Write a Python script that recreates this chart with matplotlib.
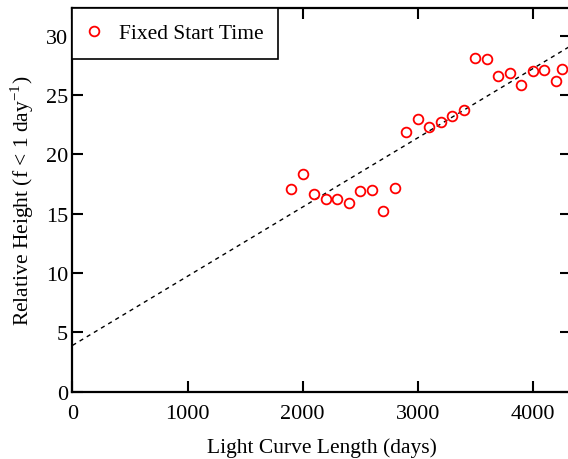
import numpy as np
import matplotlib
matplotlib.use("Agg")
import matplotlib.pyplot as plt

plt.rcParams['font.family'] = ['Liberation Serif', 'DejaVu Serif']
plt.rcParams['mathtext.fontset'] = 'custom'
plt.rcParams['mathtext.rm'] = 'Liberation Serif'

# light curve length (days) and relative peak height
length = [1900, 2000, 2100, 2200, 2300, 2400, 2500, 2600, 2700, 2800,
          2900, 3000, 3100, 3200, 3300, 3400, 3500, 3600, 3700, 3800,
          3900, 4000, 4100, 4200, 4250]
height = [17.05, 18.3, 16.65, 16.22, 16.22, 15.9, 16.88, 17.0, 15.2, 17.2,
          21.92, 23.0, 22.3, 22.7, 23.23, 23.74, 28.12, 28.0, 26.56, 26.84,
          25.85, 27.0, 27.13, 26.14, 27.2]

# linear trend
fit_intercept = 3.9
fit_slope = 0.00583

xmax = 4330
ymax = 32.3

fig = plt.figure(figsize=(5.68, 4.60), dpi=100)
ax = fig.add_axes([0.1276, 0.1463, 0.8775, 0.8335])

xs = np.array([0, xmax])
ax.plot(xs, fit_intercept + fit_slope * xs, color='black', lw=1.0,
        linestyle=(0, (3, 3)), zorder=2)
ax.plot(length, height, 'o', mfc='none', mec='red', ms=7, mew=1.3,
        linestyle='none', label='Fixed Start Time', zorder=3)

ax.set_xlim(0, xmax)
ax.set_ylim(0, ymax)
ax.set_xticks([0, 1000, 2000, 3000, 4000])
ax.set_yticks([0, 5, 10, 15, 20, 25, 30])

ax.tick_params(direction='in', length=8, width=1.5, labelsize=16,
               top=True, right=True)
ax.tick_params(axis='x', pad=9)
ax.tick_params(axis='y', pad=3)
for s in ax.spines.values():
    s.set_linewidth(1.6)

ax.set_xlabel('Light Curve Length (days)', fontsize=15.5, labelpad=10)
ax.set_ylabel(r'Relative Height (f < 1 day$^{-1}$)', fontsize=15.5, labelpad=7)

leg = ax.legend(loc='upper left', borderaxespad=0, fontsize=15.5,
                fancybox=False, framealpha=1, edgecolor='black',
                handletextpad=0.85, handlelength=0.6, borderpad=0.7)
leg.get_frame().set_linewidth(1.2)

fig.savefig('out.png', dpi=100)
